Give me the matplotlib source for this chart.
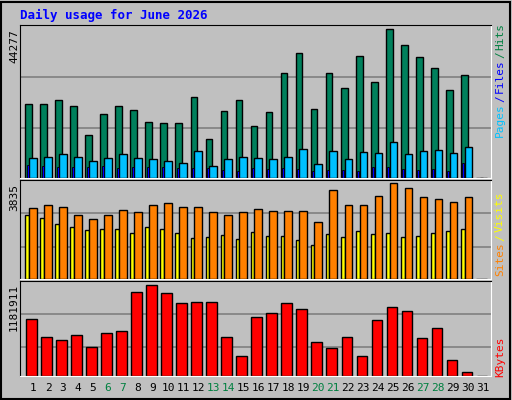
import matplotlib
matplotlib.use("Agg")
import matplotlib.pyplot as plt
import numpy as np

days = list(range(1, 32))
hits = [22000,22000,23300,21500,12800,19100,21500,20300,16700,16400,16400,24200,11600,20000,23300,15500,19700,31400,37100,20600,31400,26900,36200,28700,44277,39500,35900,32900,26300,30800,0]
files = [6100,6400,7000,6400,5200,6100,7000,6100,5800,5200,4600,7900,3700,5800,6400,6100,5800,6400,8500,4300,7900,5800,7600,7300,10600,7000,7900,8200,7300,9100,0]
pages = [4000,3700,3400,3400,3400,3700,3100,3400,3400,3400,3100,3100,3100,2500,2200,3100,2800,3100,2800,2200,2500,2500,2200,3400,3400,2800,2500,2800,2200,4600,0]
visits = [2835,2960,2876,2543,2418,2543,2751,2668,2960,3043,2876,2876,2668,2543,2668,2793,2710,2710,2710,2293,3543,2960,2960,3335,3835,3626,3293,3210,3085,3293,0]
sites = [2543,2459,2209,2084,1959,2001,2001,1834,2084,2001,1834,1626,1667,1751,1584,1876,1709,1709,1542,1376,1792,1667,1918,1792,1834,1667,1709,1834,1918,2001,0]
kbytes = [741900,509000,470200,534900,379600,560800,586600,1091300,1181911,1078400,949000,961900,961900,509000,263100,767800,819600,949000,871300,444300,366700,509000,263100,729000,897200,845400,496000,625500,211400,56100,0]
weekends = [6,7,13,14,20,21,27,28]

W, H = 512, 400
fig = plt.figure(figsize=(W/100, H/100), dpi=100)
fig.patch.set_facecolor('#C0C0C0')
mono = 'DejaVu Sans Mono'

def ax_at(x0, y0, x1, y1):
    a = fig.add_axes([x0/W, 1-y1/H, (x1-x0)/W, (y1-y0)/H])
    a.set_facecolor('#C0C0C0')
    a.set_xlim(0.13, 31.51)
    a.set_xticks([]); a.set_yticks([])
    for s in ['left', 'top']:
        a.spines[s].set_color('black')
    for s in ['right', 'bottom']:
        a.spines[s].set_color('white')
    return a

x = np.array(days, dtype=float)
ec = dict(edgecolor='black', linewidth=1)

a1 = ax_at(20, 25, 491, 178)
m1 = max(hits)
a1.set_ylim(0, m1*152/147.7)
for yy in (76, 127):
    a1.axhline(m1*(176.7-yy)/147.7, color='#808080', lw=1.2, zorder=0)
a1.bar(x-0.28, hits, width=0.46, color='#00805C', **ec, zorder=2)
a1.bar(x, files, width=0.5, color='#00C0FF', **ec, zorder=3)
a1.bar(x-0.34, pages, width=0.13, color='#0000FF', edgecolor='black', linewidth=0.6, zorder=4)

a2 = ax_at(20, 180, 491, 279)
m2 = max(visits)
a2.set_ylim(0, m2*95/92)
for yy in (213.3, 246):
    a2.axhline(m2*(276.3-yy)/92, color='#808080', lw=1.2, zorder=0)
a2.bar(x-0.38, sites, width=0.26, color='#FFFF00', **ec, zorder=2)
a2.bar(x, visits, width=0.5, color='#FF8000', **ec, zorder=3)

a3 = ax_at(20, 281, 491, 376)
m3 = max(kbytes)
a3.set_ylim(0, m3*95/91.3)
for yy in (415, 514):
    a3.axhline(m3*(602-yy)/274, color='#808080', lw=1.2, zorder=0)
a3.bar(x-0.1, kbytes, width=0.7, color='#FF0000', **ec, zorder=2)

for d in days:
    fig.text((20 + (d-0.13)*15)/W, 1-388/H, str(d), ha='center', va='center',
             fontsize=8, family=mono, color='#008040' if d in weekends else 'black')

fig.text(20/W, 1-15/H, 'Daily usage for June 2026', fontsize=9, family=mono,
         weight='bold', color='#0000FF', va='center')
fig.text(14/W, 1-29/H, '44277', rotation=90, fontsize=8, family=mono, ha='center', va='top')
fig.text(14/W, 1-184/H, '3835', rotation=90, fontsize=8, family=mono, ha='center', va='top')
fig.text(14/W, 1-284/H, '1181911', rotation=90, fontsize=8, family=mono, ha='center', va='top')

def rlab(parts, ybottom):
    y = ybottom
    for txt, col in parts:
        fig.text(500/W, 1-y/H, txt, rotation=90, fontsize=8, family=mono,
                 color=col, ha='center', va='bottom')
        y -= len(txt)*6.6 + 2

rlab([('Pages', '#00C0FF'), ('/', '#0000FF'), ('Files', '#0000FF'), ('/', '#008040'), ('Hits', '#008040')], 137)
rlab([('Sites', '#FF8000'), ('/', '#FFFF00'), ('Visits', '#FFFF00')], 276)
rlab([('KBytes', '#FF0000')], 377)

fig.add_artist(plt.Rectangle((0.002, 0.002), 0.994, 0.994, transform=fig.transFigure,
                             fill=False, edgecolor='black', lw=1.5))
fig.savefig('out.png', dpi=100, facecolor=fig.get_facecolor())
